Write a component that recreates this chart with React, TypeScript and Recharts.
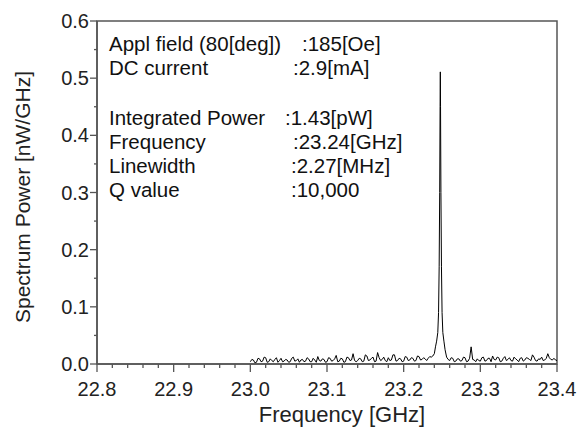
import { LineChart, Line, XAxis, YAxis, ReferenceArea } from 'recharts';

// noise floor, 23.000 .. 23.236 GHz
const noiseLowFreq = [
  23.0, 23.002, 23.004, 23.006, 23.008, 23.01, 23.012, 23.014, 23.016, 23.018,
  23.02, 23.022, 23.024, 23.026, 23.028, 23.03, 23.032, 23.034, 23.036, 23.038,
  23.04, 23.042, 23.044, 23.046, 23.048, 23.05, 23.052, 23.054, 23.056, 23.058,
  23.06, 23.062, 23.064, 23.066, 23.068, 23.07, 23.072, 23.074, 23.076, 23.078,
  23.08, 23.082, 23.084, 23.086, 23.088, 23.09, 23.092, 23.094, 23.096, 23.098,
  23.1, 23.102, 23.104, 23.106, 23.108, 23.11, 23.112, 23.114, 23.116, 23.118,
  23.12, 23.122, 23.124, 23.126, 23.128, 23.13, 23.132, 23.134, 23.136, 23.138,
  23.14, 23.142, 23.144, 23.146, 23.148, 23.15, 23.152, 23.154, 23.156, 23.158,
  23.16, 23.162, 23.164, 23.166, 23.168, 23.17, 23.172, 23.174, 23.176, 23.178,
  23.18, 23.182, 23.184, 23.186, 23.188, 23.19, 23.192, 23.194, 23.196, 23.198,
  23.2, 23.202, 23.204, 23.206, 23.208, 23.21, 23.212, 23.214, 23.216, 23.218,
  23.22, 23.222, 23.224, 23.226, 23.228, 23.23, 23.232, 23.234, 23.236,
];
const noiseLowPower = [
  0.004, 0.008, 0.007, 0.002, 0.003, 0.01, 0.009, 0.004, 0.005, 0.012,
  0.011, 0.003, 0.004, 0.009, 0.006, 0.004, 0.008, 0.011, 0.003, 0.006,
  0.01, 0.004, 0.005, 0.008, 0.007, 0.003, 0.004, 0.01, 0.012, 0.005,
  0.006, 0.009, 0.003, 0.007, 0.008, 0.004, 0.005, 0.011, 0.009, 0.004,
  0.004, 0.01, 0.007, 0.003, 0.013, 0.006, 0.005, 0.009, 0.008, 0.003,
  0.004, 0.011, 0.01, 0.005, 0.006, 0.009, 0.015, 0.004, 0.005, 0.01,
  0.009, 0.003, 0.004, 0.012, 0.011, 0.006, 0.007, 0.018, 0.006, 0.004,
  0.006, 0.01, 0.009, 0.004, 0.005, 0.016, 0.014, 0.006, 0.007, 0.01,
  0.012, 0.004, 0.005, 0.02, 0.011, 0.006, 0.008, 0.012, 0.006, 0.004,
  0.011, 0.006, 0.007, 0.016, 0.016, 0.005, 0.006, 0.01, 0.009, 0.004,
  0.005, 0.013, 0.012, 0.006, 0.007, 0.011, 0.01, 0.005, 0.006, 0.014,
  0.013, 0.007, 0.008, 0.011, 0.009, 0.006, 0.01, 0.013, 0.012,
];

// resonance peak
const peakFreq = [
  23.238, 23.24, 23.2415, 23.243, 23.2445, 23.2455, 23.2463, 23.247, 23.2475,
  23.2478, 23.2481, 23.2486, 23.2493, 23.2501, 23.2511, 23.2525, 23.254,
];
const peakPower = [
  0.014, 0.018, 0.03, 0.04, 0.055, 0.09, 0.17, 0.3, 0.45,
  0.511, 0.45, 0.3, 0.17, 0.09, 0.055, 0.04, 0.025,
];

// noise floor, 23.256 .. 23.400 GHz
const noiseHighFreq = [
  23.256, 23.258, 23.26, 23.262, 23.264, 23.266, 23.268, 23.27, 23.272, 23.274,
  23.276, 23.278, 23.28, 23.282, 23.284, 23.286, 23.288, 23.29, 23.292, 23.294,
  23.296, 23.298, 23.3, 23.302, 23.304, 23.306, 23.308, 23.31, 23.312, 23.314,
  23.316, 23.318, 23.32, 23.322, 23.324, 23.326, 23.328, 23.33, 23.332, 23.334,
  23.336, 23.338, 23.34, 23.342, 23.344, 23.346, 23.348, 23.35, 23.352, 23.354,
  23.356, 23.358, 23.36, 23.362, 23.364, 23.366, 23.368, 23.37, 23.372, 23.374,
  23.376, 23.378, 23.38, 23.382, 23.384, 23.386, 23.388, 23.39, 23.392, 23.394,
  23.396, 23.398, 23.4,
];
const noiseHighPower = [
  0.012, 0.008, 0.006, 0.011, 0.01, 0.004, 0.005, 0.009, 0.009, 0.005,
  0.006, 0.012, 0.011, 0.004, 0.005, 0.01, 0.03, 0.008, 0.007, 0.004,
  0.009, 0.006, 0.005, 0.011, 0.012, 0.005, 0.006, 0.01, 0.01, 0.004,
  0.014, 0.008, 0.007, 0.012, 0.011, 0.004, 0.005, 0.01, 0.013, 0.006,
  0.008, 0.011, 0.006, 0.005, 0.012, 0.009, 0.007, 0.004, 0.01, 0.011,
  0.005, 0.007, 0.011, 0.01, 0.008, 0.006, 0.016, 0.012, 0.006, 0.005,
  0.009, 0.008, 0.012, 0.006, 0.007, 0.01, 0.018, 0.011, 0.008, 0.007,
  0.01, 0.007, 0.006,
];

const xTicks = [
  22.8, 22.82, 22.84, 22.86, 22.88, 22.9, 22.92, 22.94, 22.96, 22.98,
  23.0, 23.02, 23.04, 23.06, 23.08, 23.1, 23.12, 23.14, 23.16, 23.18,
  23.2, 23.22, 23.24, 23.26, 23.28, 23.3, 23.32, 23.34, 23.36, 23.38, 23.4,
];
const yTicks = [0, 0.05, 0.1, 0.15, 0.2, 0.25, 0.3, 0.35, 0.4, 0.45, 0.5, 0.55, 0.6];

const notes = [
  { label: 'Appl field (80[deg])', value: ':185[Oe]', vx: 302, y: 43 },
  { label: 'DC current', value: ':2.9[mA]', vx: 293, y: 67 },
  { label: 'Integrated Power', value: ':1.43[pW]', vx: 285, y: 117 },
  { label: 'Frequency', value: ':23.24[GHz]', vx: 293, y: 141 },
  { label: 'Linewidth', value: ':2.27[MHz]', vx: 291, y: 165 },
  { label: 'Q value', value: ':10,000', vx: 291, y: 189 },
];

const freqs = [...noiseLowFreq, ...peakFreq, ...noiseHighFreq];
const power = [...noiseLowPower, ...peakPower, ...noiseHighPower];
const data = freqs.map((f, i) => ({ f, p: power[i] }));

const axisColor = '#555';
const font = '"Liberation Sans", Arial, sans-serif';

const isMajor = (v: number) => Math.abs(v * 10 - Math.round(v * 10)) < 1e-6;

const XTick = (props: any) => {
  const { x, y, payload } = props;
  const major = isMajor(payload.value);
  return (
    <g>
      <line x1={x} x2={x} y1={y} y2={y + (major ? 8 : 4)} stroke={axisColor} strokeWidth={1.3} />
      {major && (
        <text x={x} y={y + 32} textAnchor="middle" fontSize={20} fill="#222" fontFamily={font}>
          {payload.value.toFixed(1)}
        </text>
      )}
    </g>
  );
};

const YTick = (props: any) => {
  const { x, y, payload } = props;
  const major = isMajor(payload.value);
  return (
    <g>
      <line x1={x} x2={x - (major ? 7 : 3)} y1={y} y2={y} stroke={axisColor} strokeWidth={1.3} />
      {major && (
        <text x={x - 8} y={y + 7} textAnchor="end" fontSize={20} fill="#222" fontFamily={font}>
          {payload.value.toFixed(1)}
        </text>
      )}
    </g>
  );
};

export default function App() {
  return (
    <div style={{ position: 'relative', width: 579, height: 430, background: '#fff' }}>
      <style>{'body{margin:0}'}</style>
      <LineChart width={579} height={430} data={data} margin={{ top: 21, right: 22, left: 37, bottom: 16 }}>
        <XAxis
          dataKey="f"
          type="number"
          domain={[22.8, 23.4]}
          ticks={xTicks}
          interval={0}
          allowDataOverflow
          height={50}
          tickSize={0}
          tickMargin={0}
          tick={<XTick />}
          stroke={axisColor}
          strokeWidth={1.5}
          label={{
            content: () => (
              <text x={342} y={414} textAnchor="middle" dominantBaseline="central" fontSize={22} fill="#222" fontFamily={font}>
                Frequency [GHz]
              </text>
            ),
          }}
        />
        <YAxis
          type="number"
          domain={[0, 0.6]}
          ticks={yTicks}
          interval={0}
          allowDataOverflow
          width={60}
          tickSize={0}
          tickMargin={0}
          tick={<YTick />}
          stroke={axisColor}
          strokeWidth={1.5}
          label={{
            content: () => (
              <text
                x={22}
                y={197}
                transform="rotate(-90 22 197)"
                textAnchor="middle"
                dominantBaseline="central"
                fontSize={21}
                fill="#222"
                fontFamily={font}
              >
                Spectrum Power [nW/GHz]
              </text>
            ),
          }}
        />
        <ReferenceArea x1={22.8} x2={23.4} y1={0} y2={0.6} fill="none" stroke={axisColor} strokeWidth={1.5} />
        <Line dataKey="p" type="linear" stroke="#000" strokeWidth={1} dot={false} isAnimationActive={false} />
      </LineChart>
      <svg width={579} height={430} style={{ position: 'absolute', left: 0, top: 0, pointerEvents: 'none' }}>
        {notes.map((n) => (
          <g key={n.label} fontSize={20.5} fill="#111" fontFamily={font}>
            <text x={109} y={n.y} dominantBaseline="central">{n.label}</text>
            <text x={n.vx} y={n.y} dominantBaseline="central">{n.value}</text>
          </g>
        ))}
      </svg>
    </div>
  );
}
